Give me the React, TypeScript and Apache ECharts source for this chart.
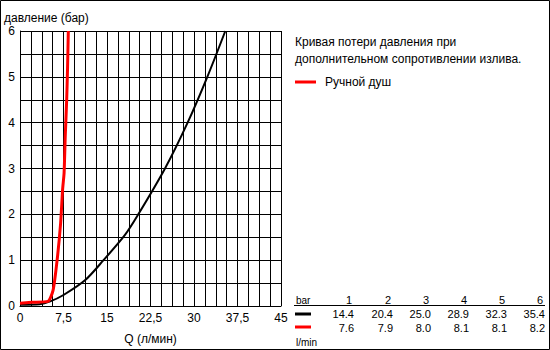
import React, { useEffect, useRef } from "react";
import * as echarts from "echarts";

const xTicks = [0, 7.5, 15, 22.5, 30, 37.5, 45];
const yTicks = [0, 1, 2, 3, 4, 5, 6];

// Pressure-loss curves: [flow l/min, pressure bar]
const blackCurve: [number, number][] = [
  [0, 0.03], [3.4, 0.04], [5.2, 0.1], [7.5, 0.24], [11.2, 0.56], [14.4, 1.0],
  [18.1, 1.55], [20.4, 2.0], [25.0, 3.0], [28.9, 4.0], [32.3, 5.0], [35.4, 6.0],
];
const redCurve: [number, number][] = [
  [0, 0.06], [2, 0.08], [4.8, 0.1], [5.7, 0.34], [6.4, 1.0], [7.0, 1.8],
  [7.35, 2.55], [7.6, 2.9], [7.8, 3.7], [8.05, 4.5], [8.2, 5.2], [8.33, 6.0],
];

const tableBar = [1, 2, 3, 4, 5, 6];
const tableBlack = [14.4, 20.4, 25.0, 28.9, 32.3, 35.4];
const tableRed = [7.6, 7.9, 8.0, 8.1, 8.1, 8.2];

const titleLines = ["Кривая потери давления при", "дополнительном сопротивлении излива."];
const legendName = "Ручной душ";

const FONT = "'Liberation Sans', Arial, sans-serif";

export default function App() {
  const ref = useRef<HTMLDivElement>(null);
  useEffect(() => {
    if (!ref.current) return;
    const chart = echarts.init(ref.current, null, { renderer: "svg" });
    const colX = [352, 391, 429, 467, 505, 543];
    const graphics: any[] = [
      {
        type: "rect",
        shape: { x: 0.5, y: 0.5, width: 549, height: 349 },
        style: { fill: "none", stroke: "#000", lineWidth: 1 },
        silent: true,
      },
      {
        type: "text",
        left: 4,
        top: 12,
        style: { text: "давление (бар)", font: `12px ${FONT}`, fill: "#000" },
      },
      {
        type: "text",
        x: 295,
        y: 33,
        style: { text: titleLines.join("\n"), font: `12px ${FONT}`, fill: "#000", lineHeight: 17 },
      },
      {
        type: "line",
        shape: { x1: 295, y1: 82, x2: 316, y2: 82 },
        style: { stroke: "#ff0000", lineWidth: 3 },
      },
      {
        type: "text",
        x: 325,
        y: 76,
        style: { text: legendName, font: `12px ${FONT}`, fill: "#000" },
      },
      {
        type: "text",
        x: 296,
        y: 300,
        style: { text: "bar", font: `10px ${FONT}`, fill: "#000", verticalAlign: "middle" },
      },
      {
        type: "line",
        shape: { x1: 294, y1: 305.5, x2: 545, y2: 305.5 },
        style: { stroke: "#000", lineWidth: 1 },
      },
      {
        type: "line",
        shape: { x1: 295, y1: 314, x2: 311, y2: 314 },
        style: { stroke: "#000", lineWidth: 3 },
      },
      {
        type: "line",
        shape: { x1: 295, y1: 327, x2: 311, y2: 327 },
        style: { stroke: "#ff0000", lineWidth: 3 },
      },
      {
        type: "text",
        x: 296,
        y: 342,
        style: { text: "l/min", font: `10px ${FONT}`, fill: "#000", verticalAlign: "middle" },
      },
    ];
    tableBar.forEach((b, i) => {
      graphics.push({
        type: "text",
        x: colX[i],
        y: 300,
        style: { text: String(b), font: `11px ${FONT}`, fill: "#000", align: "right", verticalAlign: "middle" },
      });
      graphics.push({
        type: "text",
        x: colX[i] + 2,
        y: 314,
        style: { text: tableBlack[i].toFixed(1), font: `11px ${FONT}`, fill: "#000", align: "right", verticalAlign: "middle" },
      });
      graphics.push({
        type: "text",
        x: colX[i] + 2,
        y: 328,
        style: { text: tableRed[i].toFixed(1), font: `11px ${FONT}`, fill: "#000", align: "right", verticalAlign: "middle" },
      });
    });

    chart.setOption({
      animation: false,
      backgroundColor: "#fff",
      textStyle: { fontFamily: FONT },
      grid: { left: 20, top: 31, right: 269, bottom: 37 },
      xAxis: {
        type: "value",
        min: 0,
        max: 45,
        interval: 7.5,
        name: "Q (л/мин)",
        nameLocation: "middle",
        nameGap: 27,
        nameTextStyle: { color: "#000", fontSize: 12, fontFamily: FONT },
        axisLine: { lineStyle: { color: "#000", width: 1 } },
        axisTick: { show: false },
        axisLabel: {
          color: "#000",
          fontSize: 12,
          fontFamily: FONT,
          margin: 6,
          formatter: (v: number) => (xTicks.includes(v) ? String(v).replace(".", ",") : ""),
        },
        splitLine: { show: true, lineStyle: { color: "#000", width: 1 } },
        minorTick: { show: false, splitNumber: 4 },
        minorSplitLine: { show: true, lineStyle: { color: "#000", width: 1 } },
      },
      yAxis: {
        type: "value",
        min: 0,
        max: 6,
        interval: 1,
        axisLine: { show: true, lineStyle: { color: "#000", width: 1 } },
        axisTick: { show: false },
        axisLabel: {
          color: "#000",
          fontSize: 12,
          fontFamily: FONT,
          margin: 5,
          formatter: (v: number) => (yTicks.includes(v) ? String(v) : ""),
        },
        splitLine: { show: true, lineStyle: { color: "#000", width: 1 } },
        minorTick: { show: false, splitNumber: 2 },
        minorSplitLine: { show: true, lineStyle: { color: "#000", width: 1 } },
      },
      series: [
        {
          type: "line",
          data: blackCurve,
          smooth: 0.3,
          symbol: "none",
          lineStyle: { color: "#000", width: 2 },
          z: 3,
        },
        {
          type: "line",
          data: redCurve,
          smooth: 0.2,
          symbol: "none",
          lineStyle: { color: "#ff0000", width: 3 },
          z: 4,
        },
      ],
      graphic: graphics,
    });
    return () => chart.dispose();
  }, []);
  return (
    <div
      ref={ref}
      style={{ position: "absolute", left: 0, top: 0, width: 550, height: 350 }}
    />
  );
}
